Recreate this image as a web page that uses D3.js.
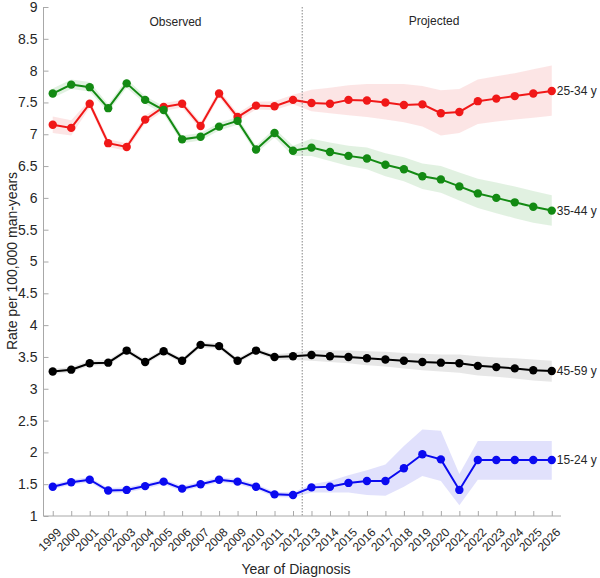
<!DOCTYPE html>
<html>
<head>
<meta charset="utf-8">
<script src="https://cdn.jsdelivr.net/npm/d3@7"></script>
<style>
  html, body { margin: 0; padding: 0; background: #fff; }
  svg { display: block; font-family: "Liberation Sans", Arial, sans-serif; }
</style>
</head>
<body>
<svg id="chart" width="600" height="578"></svg>
<script>
// ---------------- data ----------------
const years = d3.range(1999, 2027);
const yTicks = [1, 1.5, 2, 2.5, 3, 3.5, 4, 4.5, 5, 5.5, 6, 6.5, 7, 7.5, 8, 8.5, 9];
const splitYear = 2012.5;

// 25-34 y (red)
const red = [7.15, 7.10, 7.48, 6.86, 6.80, 7.23, 7.43, 7.48, 7.13, 7.64, 7.27, 7.45, 7.44, 7.54,
             7.49, 7.48, 7.54, 7.53, 7.50, 7.46, 7.47, 7.33, 7.35, 7.52, 7.56, 7.60, 7.64, 7.68];
const redLo = [7.02, 6.98, 7.42, 6.80, 6.74, 7.17, 7.37, 7.42, 7.07, 7.58, 7.21, 7.39, 7.38, 7.47,
               7.36, 7.33, 7.30, 7.27, 7.23, 7.19, 7.12, 6.98, 7.02, 7.16, 7.20, 7.23, 7.26, 7.29];
const redHi = [7.28, 7.22, 7.54, 6.92, 6.86, 7.29, 7.49, 7.54, 7.19, 7.70, 7.33, 7.51, 7.52, 7.62,
               7.70, 7.73, 7.77, 7.79, 7.79, 7.79, 7.76, 7.69, 7.71, 7.86, 7.91, 7.96, 8.02, 8.08];

// 35-44 y (green)
const green = [7.64, 7.78, 7.74, 7.41, 7.80, 7.54, 7.38, 6.92, 6.96, 7.12, 7.21, 6.76, 7.02, 6.74,
               6.79, 6.72, 6.66, 6.62, 6.52, 6.45, 6.34, 6.29, 6.18, 6.07, 6.00, 5.93, 5.86, 5.80];
const greenLo = [7.57, 7.71, 7.67, 7.35, 7.73, 7.48, 7.32, 6.86, 6.90, 7.06, 7.15, 6.70, 6.95, 6.66,
                 6.66, 6.58, 6.50, 6.45, 6.34, 6.26, 6.14, 6.08, 5.96, 5.84, 5.76, 5.68, 5.61, 5.56];
const greenHi = [7.72, 7.86, 7.82, 7.47, 7.87, 7.60, 7.44, 6.98, 7.02, 7.18, 7.27, 6.82, 7.09, 6.82,
                 6.93, 6.87, 6.82, 6.79, 6.70, 6.64, 6.54, 6.50, 6.40, 6.30, 6.24, 6.18, 6.11, 6.04];

// 45-59 y (black)
const black = [3.27, 3.30, 3.40, 3.41, 3.60, 3.42, 3.59, 3.44, 3.69, 3.67, 3.44, 3.60, 3.50, 3.51,
               3.53, 3.51, 3.50, 3.48, 3.46, 3.44, 3.42, 3.41, 3.40, 3.36, 3.34, 3.32, 3.29, 3.28];
const blackLo = [3.23, 3.26, 3.36, 3.37, 3.56, 3.38, 3.55, 3.40, 3.65, 3.63, 3.40, 3.56, 3.46, 3.45,
                 3.44, 3.42, 3.40, 3.37, 3.35, 3.32, 3.29, 3.27, 3.25, 3.21, 3.19, 3.16, 3.13, 3.11];
const blackHi = [3.31, 3.34, 3.44, 3.45, 3.64, 3.46, 3.63, 3.48, 3.73, 3.71, 3.48, 3.64, 3.54, 3.57,
                 3.61, 3.60, 3.60, 3.59, 3.58, 3.56, 3.55, 3.54, 3.54, 3.51, 3.49, 3.48, 3.46, 3.44];

// 15-24 y (blue)
const blue = [1.46, 1.53, 1.57, 1.40, 1.41, 1.47, 1.54, 1.43, 1.50, 1.57, 1.54, 1.46, 1.34, 1.33,
              1.45, 1.46, 1.52, 1.55, 1.55, 1.75, 1.97, 1.89, 1.41, 1.88, 1.88, 1.88, 1.88, 1.88];
const blueLo = [1.42, 1.49, 1.53, 1.36, 1.37, 1.43, 1.50, 1.39, 1.46, 1.53, 1.50, 1.42, 1.30, 1.29,
                1.37, 1.37, 1.37, 1.33, 1.32, 1.46, 1.63, 1.55, 1.17, 1.57, 1.57, 1.57, 1.57, 1.57];
const blueHi = [1.50, 1.57, 1.61, 1.44, 1.45, 1.51, 1.58, 1.47, 1.54, 1.61, 1.58, 1.50, 1.38, 1.37,
                1.50, 1.55, 1.64, 1.72, 1.81, 2.10, 2.36, 2.34, 1.66, 2.18, 2.18, 2.18, 2.18, 2.18];

const seriesNames = ["25-34 y", "35-44 y", "45-59 y", "15-24 y"];
const seriesColors = ["#f01818", "#138a13", "#000000", "#0a0af0"];
const bandColors = ["#fbe0e0", "#dcefdc", "#e3e3e3", "#dcdcfb"];

// ---------------- chart ----------------
const series = [
  { name: seriesNames[0], v: red, lo: redLo, hi: redHi, c: seriesColors[0], b: bandColors[0] },
  { name: seriesNames[1], v: green, lo: greenLo, hi: greenHi, c: seriesColors[1], b: bandColors[1] },
  { name: seriesNames[2], v: black, lo: blackLo, hi: blackHi, c: seriesColors[2], b: bandColors[2] },
  { name: seriesNames[3], v: blue, lo: blueLo, hi: blueHi, c: seriesColors[3], b: bandColors[3] }
];

const svg = d3.select("#chart");
const x = d3.scaleLinear().domain([1998.5, 2026.5]).range([43.5, 561]);
const y = d3.scaleLinear().domain([1, 9]).range([516, 7]);

// bands
const area = d3.area()
  .x((d, i) => x(years[i]))
  .y0(d => y(d[0]))
  .y1(d => y(d[1]));
series.forEach(s => {
  svg.append("path")
    .datum(s.lo.map((l, i) => [l, s.hi[i]]))
    .attr("d", area)
    .attr("fill", s.b)
    .attr("fill-opacity", 0.85);
});

// split line
svg.append("line")
  .attr("x1", x(splitYear)).attr("x2", x(splitYear))
  .attr("y1", y(9)).attr("y2", y(1))
  .attr("stroke", "#9a9a9a").attr("stroke-width", 1.2)
  .attr("stroke-dasharray", "1.5,1.5");

// axes
const gx = svg.append("g").attr("transform", `translate(0,${y(1)})`)
  .call(d3.axisBottom(x).tickValues(years).tickSize(-5).tickFormat(""));
gx.select(".domain").attr("stroke", "#a8a8a8").attr("d", `M${x.range()[0]},0H${x.range()[1]}`);
gx.selectAll(".tick line").attr("stroke", "#a8a8a8");
gx.selectAll(".tick").append("text")
  .attr("transform", "translate(9,17) rotate(-45)")
  .attr("text-anchor", "end")
  .attr("fill", "#262626")
  .attr("font-size", 12)
  .text(d => d);

const gy = svg.append("g").attr("transform", `translate(${x.range()[0]},0)`)
  .call(d3.axisLeft(y).tickValues(yTicks).tickSize(-5).tickFormat(d3.format("")));
gy.select(".domain").attr("stroke", "#a8a8a8").attr("d", `M0,${y.range()[1]}V${y.range()[0]}`);
gy.selectAll(".tick line").attr("stroke", "#a8a8a8");
gy.selectAll(".tick text")
  .attr("x", -6)
  .attr("fill", "#262626")
  .attr("font-size", 14)
  .attr("font-family", "Liberation Sans, Arial, sans-serif");

// lines and markers
const line = d3.line().x((d, i) => x(years[i])).y(d => y(d));
series.forEach(s => {
  svg.append("path").datum(s.v).attr("d", line)
    .attr("fill", "none").attr("stroke", s.c).attr("stroke-width", 2);
  svg.append("g").selectAll("circle").data(s.v).join("circle")
    .attr("cx", (d, i) => x(years[i])).attr("cy", d => y(d))
    .attr("r", 4.2).attr("fill", s.c);
  svg.append("text")
    .attr("x", x(years[years.length - 1]) + 5)
    .attr("y", y(s.v[s.v.length - 1]))
    .attr("dy", "0.35em")
    .attr("font-size", 12)
    .attr("fill", "#262626")
    .text(s.name);
});

// annotations
svg.append("text").attr("x", 175.5).attr("y", 25.5).attr("text-anchor", "middle")
  .attr("font-size", 12).attr("fill", "#262626").text("Observed");
svg.append("text").attr("x", 434).attr("y", 25).attr("text-anchor", "middle")
  .attr("font-size", 12).attr("fill", "#262626").text("Projected");

// axis titles
svg.append("text").attr("x", 296).attr("y", 574).attr("text-anchor", "middle")
  .attr("font-size", 14).attr("fill", "#262626").text("Year of Diagnosis");
svg.append("text")
  .attr("transform", "translate(17,261) rotate(-90)")
  .attr("text-anchor", "middle")
  .attr("font-size", 14).attr("fill", "#262626").text("Rate per 100,000 man-years");
</script>
</body>
</html>
